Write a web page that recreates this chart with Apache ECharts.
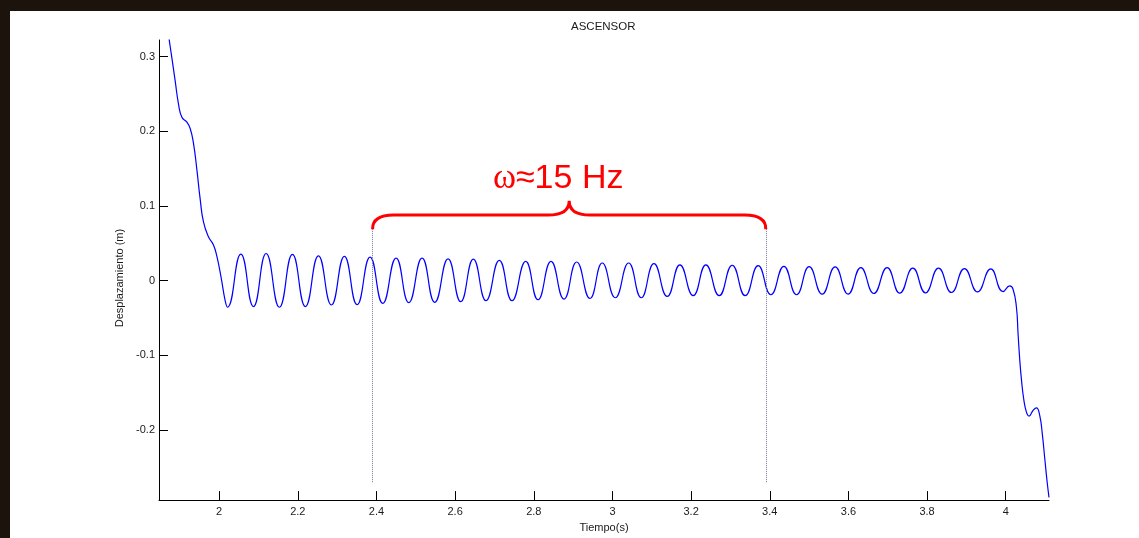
<!DOCTYPE html>
<html>
<head>
<meta charset="utf-8">
<script src="https://cdn.jsdelivr.net/npm/echarts@6/dist/echarts.min.js"></script>
<style>
html,body{margin:0;padding:0;width:1139px;height:538px;overflow:hidden;background:#1b130c;}
#chart{position:absolute;left:10px;top:11px;width:1129px;height:527px;background:#ffffff;}
</style>
</head>
<body>
<div id="chart"></div>
<script>
// ---- data ----
const time = [
 1.867,1.8737,1.8798,1.8882,1.8966,1.9052,1.9179,1.9263,1.9347,1.9433,1.9517,1.9601,1.9728,1.9855,1.9942,2.0051,2.0152,2.0211,
 2.0551,2.0872,2.1194,2.1532,2.1863,2.2193,2.2524,2.2854,2.3184,2.3507,2.3837,2.4160,2.4498,2.4821,2.5159,2.5482,
 2.5820,2.6142,2.6463,2.6785,2.7123,2.7446,2.7794,2.8107,2.8437,2.8767,2.9090,2.9428,2.9741,3.0071,3.0412,3.0732,
 3.1055,3.1393,3.1715,3.2053,3.2376,3.2714,3.3045,3.3375,3.3705,3.4028,3.4358,3.4681,3.5001,3.5332,3.5662,3.5992,
 3.6315,3.6645,3.6984,3.7306,3.7637,3.7959,3.8290,3.8620,3.8950,3.9281,3.9619,3.9931,
 4.0102,4.0186,4.0272,4.0313,4.0356,4.0399,4.0457,4.0526,4.0592,4.0694,4.0780,4.0864,4.0933,4.0991,4.1050,4.1100
];
const displacement = [
 0.344,0.3197,0.2978,0.2671,0.2364,0.2188,0.2122,0.2036,0.1838,0.1487,0.1092,0.0786,0.0588,0.0478,0.0325,0.0039,-0.0267,-0.0355,
 0.0355,-0.0346,0.0364,-0.0355,0.0351,-0.0346,0.0333,-0.0325,0.0325,-0.0320,0.0316,-0.0303,0.0303,-0.0293,0.0303,-0.0289,
 0.0292,-0.0280,0.0289,-0.0267,0.0272,-0.0267,0.0259,-0.0254,0.0259,-0.0246,0.0250,-0.0237,0.0237,-0.0228,0.0237,-0.0228,
 0.0228,-0.0211,0.0211,-0.0201,0.0211,-0.0201,0.0207,-0.0201,0.0201,-0.0188,0.0193,-0.0188,0.0188,-0.0180,0.0184,-0.0180,
 0.0175,-0.0171,0.0175,-0.0167,0.0167,-0.0162,0.0167,-0.0158,0.0162,-0.0149,0.0158,-0.0145,
 -0.0070,-0.0114,-0.0355,-0.0707,-0.1057,-0.1320,-0.1583,-0.1759,-0.1812,-0.1737,-0.1701,-0.1803,-0.2066,-0.2372,-0.2680,-0.2899
];
const xTicks = [2, 2.2, 2.4, 2.6, 2.8, 3, 3.2, 3.4, 3.6, 3.8, 4];
const yTicks = [-0.2, -0.1, 0, 0.1, 0.2, 0.3];
const xRange = [1.847, 4.11];
const yRange = [-0.2936, 0.3221];
// annotation: one-second window with 15 oscillations
const bandX = [2.39, 3.39];
const guideTop = 0.069;
const guideBottom = -0.271;
const braceBar = 0.0878;
const braceTip = 0.107;
const labelX = 2.862;
const labelY = 0.113;
const annotationText = '{w|ω}{t|≈15 Hz}';
const titleText = 'ASCENSOR';
const xName = 'Tiempo(s)';
const yName = 'Desplazamiento (m)';

const seriesData = time.map((t, i) => [t, displacement[i]]);

const chart = echarts.init(document.getElementById('chart'), null, {renderer: 'canvas'});
const FONT = 'Liberation Sans, Arial, sans-serif';
const axisCommon = {
  axisLine: {show: true, onZero: false, lineStyle: {color: '#000', width: 1}},
  axisTick: {show: true, inside: true, length: 9, lineStyle: {color: '#000', width: 1}},
  splitLine: {show: false},
  nameTextStyle: {fontFamily: FONT, fontSize: 11, color: '#1a1a1a'}
};
chart.setOption({
  animation: false,
  backgroundColor: '#ffffff',
  title: {
    text: titleText, left: 561, top: 10, padding: 0,
    textStyle: {fontFamily: FONT, fontSize: 11.5, fontWeight: 'normal', color: '#1a1a1a'}
  },
  grid: {left: 149, right: 90, top: 29, bottom: 34},
  xAxis: Object.assign({}, axisCommon, {
    type: 'value', min: xRange[0], max: xRange[1],
    name: xName, nameLocation: 'middle', nameGap: 20,
    axisTick: Object.assign({}, axisCommon.axisTick, {customValues: xTicks}),
    axisLabel: {customValues: xTicks, margin: 6, fontFamily: FONT, fontSize: 11, color: '#1a1a1a'}
  }),
  yAxis: Object.assign({}, axisCommon, {
    type: 'value', min: yRange[0], max: yRange[1],
    name: yName, nameLocation: 'middle', nameGap: 31,
    nameTextStyle: {fontFamily: FONT, fontSize: 11, color: '#1a1a1a', padding: [0, 16, 0, 0]},
    axisTick: Object.assign({}, axisCommon.axisTick, {customValues: yTicks}),
    axisLabel: {customValues: yTicks, margin: 4, fontFamily: FONT, fontSize: 11, color: '#1a1a1a'}
  }),
  series: [
    {
      type: 'line',
      data: seriesData,
      showSymbol: false,
      smooth: 0.5,
      clip: true,
      lineStyle: {color: '#0000ff', width: 1.2},
      markLine: {
        silent: true, symbol: 'none', label: {show: false},
        lineStyle: {color: '#7a7a9a', width: 1, type: 'dotted'},
        data: bandX.map(x => [{coord: [x, guideTop]}, {coord: [x, guideBottom]}])
      },
      z: 3
    },
    {
      type: 'custom',
      coordinateSystem: 'cartesian2d',
      clip: false,
      silent: true,
      data: [[bandX[0], bandX[1]]],
      encode: {x: [0, 1]},
      renderItem: function (params, api) {
        const L = api.coord([api.value(0), guideTop]);
        const R = api.coord([api.value(1), guideTop]);
        const mid = (api.value(0) + api.value(1)) / 2;
        const T = api.coord([mid, braceTip]);
        const By = api.coord([mid, braceBar])[1];
        const r = 21;
        const p = 'M' + L[0] + ',' + L[1] +
          ' Q' + L[0] + ',' + By + ' ' + (L[0] + r) + ',' + By +
          ' L' + (T[0] - r) + ',' + By +
          ' Q' + T[0] + ',' + By + ' ' + T[0] + ',' + T[1] +
          ' Q' + T[0] + ',' + By + ' ' + (T[0] + r) + ',' + By +
          ' L' + (R[0] - r) + ',' + By +
          ' Q' + R[0] + ',' + By + ' ' + R[0] + ',' + R[1];
        const P = api.coord([labelX, labelY]);
        return {
          type: 'group',
          children: [
            {type: 'path', shape: {pathData: p}, style: {stroke: '#ff0000', fill: 'none', lineWidth: 3}},
            {type: 'text', x: P[0], y: P[1], style: {
              text: annotationText, align: 'center', verticalAlign: 'bottom',
              rich: {
                w: {fontFamily: 'Liberation Serif, Times New Roman, serif', fontSize: 35, fill: '#ff0000', color: '#ff0000'},
                t: {fontFamily: FONT, fontSize: 34, fill: '#ff0000', color: '#ff0000'}
              }
            }}
          ]
        };
      },
      z: 4
    }
  ]
});
</script>
</body>
</html>
